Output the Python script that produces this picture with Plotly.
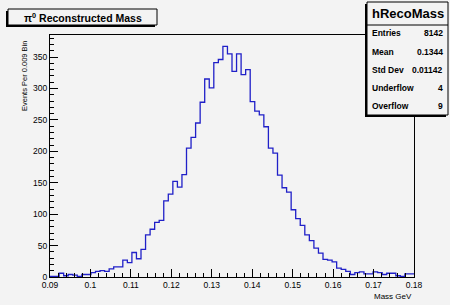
import plotly.graph_objects as go

# ---- data ----
x_min = 0.09
x_max = 0.18
n_bins = 80
counts = [1, 1, 6, 2, 4, 3, 1, 4, 4, 7,
          9, 10, 9, 13, 16, 16, 27, 23, 39, 29,
          44, 67, 76, 87, 90, 121, 132, 152, 143, 163,
          205, 222, 245, 278, 315, 301, 341, 346, 367, 355,
          327, 355, 322, 330, 279, 264, 258, 239, 205, 197,
          162, 142, 135, 107, 93, 82, 67, 58, 46, 38,
          28, 27, 24, 14, 12, 9, 4, 7, 8, 5,
          5, 8, 7, 4, 6, 6, 2, 1, 5, 5]
x_tick_vals = [0.09, 0.10, 0.11, 0.12, 0.13, 0.14, 0.15, 0.16, 0.17, 0.18]
x_tick_text = ["0.09", "0.1", "0.11", "0.12", "0.13", "0.14", "0.15", "0.16", "0.17", "0.18"]
y_tick_vals = [0, 50, 100, 150, 200, 250, 300, 350]
y_tick_text = ["0", "50", "100", "150", "200", "250", "300", "350"]
stats_labels = ["Entries", "Mean", "Std Dev", "Underflow", "Overflow"]
stats_values = ["8142", "0.1344", "0.01142", "4", "9"]
hist_name = "hRecoMass"
title_text = "π<sup>0</sup> Reconstructed Mass"
x_title = "Mass GeV"
y_title = "Events Per 0.009 Bin"

width_bin = (x_max - x_min) / n_bins
edges = [x_min + i * width_bin for i in range(n_bins + 1)]
ys = counts + [counts[-1]]

BG = "#f3f3f3"
FONT = "Liberation Sans, Arial, Helvetica, sans-serif"

fig = go.Figure()
fig.add_trace(go.Scatter(x=edges, y=ys, mode="lines", line_shape="hv",
                         line=dict(color="#2020c8", width=1.3),
                         hoverinfo="skip", showlegend=False))

W, H = 450, 305
ml, mr, mt, mb = 50, 36, 35, 28
PW = W - ml - mr
PH = H - mt - mb

fig.update_layout(
    width=W, height=H,
    margin=dict(l=ml, r=mr, t=mt, b=mb, pad=0, autoexpand=False),
    paper_bgcolor=BG, plot_bgcolor=BG,
    font=dict(family=FONT, size=8.5, color="black"),
    xaxis=dict(range=[x_min, x_max], tickmode="array", tickvals=x_tick_vals,
               ticktext=x_tick_text, ticks="inside", ticklen=8, tickwidth=1,
               tickcolor="black", showgrid=False, zeroline=False,
               showline=True, linecolor="black", linewidth=1, mirror=True,
               tickfont=dict(size=8.5),
               minor=dict(tick0=x_min, dtick=0.002, ticks="inside", ticklen=4,
                          tickcolor="black", tickwidth=1, showgrid=False)),
    yaxis=dict(range=[0, 385], tickmode="array", tickvals=y_tick_vals,
               ticktext=y_tick_text, ticks="inside", ticklen=8, tickwidth=1,
               tickcolor="black", showgrid=False, zeroline=False,
               showline=True, linecolor="black", linewidth=1, mirror=True,
               tickfont=dict(size=8.5),
               minor=dict(tick0=0, dtick=10, ticks="inside", ticklen=4,
                          tickcolor="black", tickwidth=1, showgrid=False)),
)

def px(x):
    return (x - ml) / PW

def py(y):
    return 1 - (y - mt) / PH

shapes = []
annotations = []

# title box (shadow left/bottom)
tb = dict(x0=8, x1=157, y0=9, y1=25)
shapes.append(dict(type="rect", xref="paper", yref="paper",
                   x0=px(tb["x0"] - 2), x1=px(tb["x1"] - 2), y0=py(tb["y1"] + 2), y1=py(tb["y0"] + 2),
                   fillcolor="black", line=dict(width=0), layer="above"))
shapes.append(dict(type="rect", xref="paper", yref="paper",
                   x0=px(tb["x0"]), x1=px(tb["x1"]), y0=py(tb["y1"]), y1=py(tb["y0"]),
                   fillcolor=BG, line=dict(color="black", width=1), layer="above"))
annotations.append(dict(text="<b>" + title_text + "</b>", xref="paper", yref="paper",
                        x=px((tb["x0"] + tb["x1"]) / 2), y=py((tb["y0"] + tb["y1"]) / 2),
                        xanchor="center", yanchor="middle", showarrow=False,
                        font=dict(size=10.5, family=FONT)))

# stats box
sb = dict(x0=367, x1=448, y0=2, y1=115)
shapes.append(dict(type="rect", xref="paper", yref="paper",
                   x0=px(sb["x0"] - 2), x1=px(sb["x1"] - 2), y0=py(sb["y1"] + 2), y1=py(sb["y0"] + 2),
                   fillcolor="black", line=dict(width=0), layer="above"))
shapes.append(dict(type="rect", xref="paper", yref="paper",
                   x0=px(sb["x0"]), x1=px(sb["x1"]), y0=py(sb["y1"]), y1=py(sb["y0"]),
                   fillcolor=BG, line=dict(color="black", width=1), layer="above"))
shapes.append(dict(type="line", xref="paper", yref="paper",
                   x0=px(sb["x0"]), x1=px(sb["x1"]), y0=py(25), y1=py(25),
                   line=dict(color="black", width=1), layer="above"))
annotations.append(dict(text="<b>" + hist_name + "</b>", xref="paper", yref="paper",
                        x=px((sb["x0"] + sb["x1"]) / 2), y=py(14), xanchor="center",
                        yanchor="middle", showarrow=False, font=dict(size=13, family=FONT)))
row_y0 = 33.5
row_dy = 18.2
for i, (lab, val) in enumerate(zip(stats_labels, stats_values)):
    yy = row_y0 + i * row_dy
    annotations.append(dict(text="<b>" + lab + "</b>", xref="paper", yref="paper",
                            x=px(sb["x0"] + 3), y=py(yy), xanchor="left", yanchor="middle",
                            showarrow=False, font=dict(size=8.5, family=FONT)))
    annotations.append(dict(text="<b>" + val + "</b>", xref="paper", yref="paper",
                            x=px(sb["x1"] - 3), y=py(yy), xanchor="right", yanchor="middle",
                            showarrow=False, font=dict(size=8.5, family=FONT)))

# axis titles
annotations.append(dict(text=x_title, xref="paper", yref="paper", x=px(414), y=py(296),
                        xanchor="right", yanchor="middle", showarrow=False,
                        font=dict(size=8, family=FONT)))
annotations.append(dict(text=y_title, xref="paper", yref="paper", x=px(25), y=py(39),
                        xanchor="center", yanchor="top", textangle=-90, showarrow=False,
                        font=dict(size=7.5, family=FONT)))

fig.update_layout(shapes=shapes, annotations=annotations)
fig.write_html("out.html",
               config={"displayModeBar": False, "staticPlot": True},
               post_script="document.body.style.margin='0';document.body.style.overflow='hidden';"
                           "document.body.style.background='" + BG + "';")
